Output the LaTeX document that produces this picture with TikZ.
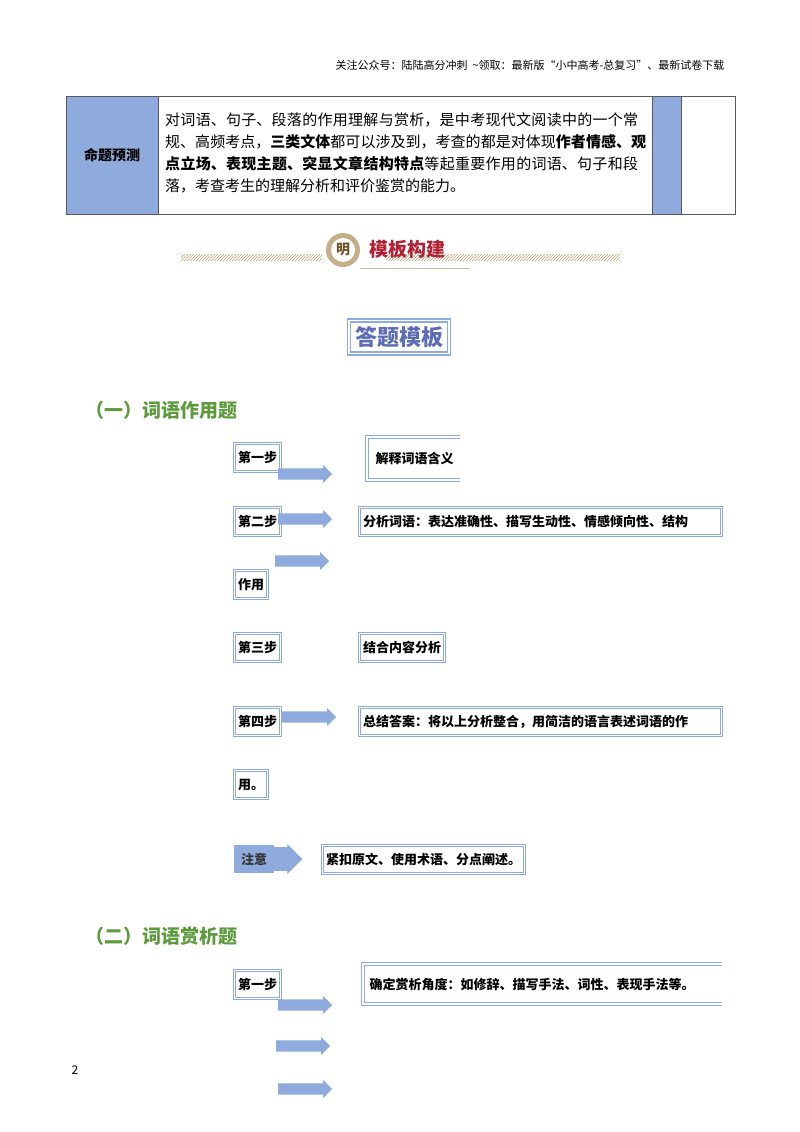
\documentclass[tikz,border=0pt]{standalone}
\usepackage{fontspec}
\setmainfont{Noto Sans CJK SC}
\XeTeXlinebreaklocale "zh"
\XeTeXlinebreakskip=0pt plus 1pt
\usetikzlibrary{shapes.arrows,patterns}
\definecolor{bl}{HTML}{8FAADC}
\definecolor{gr}{HTML}{5B9B3C}
\definecolor{rd}{HTML}{B22234}
\definecolor{br}{HTML}{9C7A3C}
\begin{document}
\begin{tikzpicture}[x=1pt,y=-1pt,
 dbox/.style={draw=bl,line width=1.2pt,double=white,double distance=1.3pt,inner sep=3.5pt,minimum height=28pt,anchor=north west,font=\fontsize{13}{15}\selectfont\bfseries,align=left},
 arr/.style={single arrow,fill=bl,draw=none,minimum height=54pt,minimum width=18pt,single arrow head extend=3pt,inner sep=5pt,anchor=west},
 hd/.style={font=\fontsize{19}{22}\selectfont\bfseries,text=gr,anchor=west}]
\useasboundingbox (0,0) rectangle (800,1132);
\node[anchor=east,font=\fontsize{11}{12}\selectfont] (hdr) at (728,65) {关注公众号：陆陆高分冲刺\ \ \textasciitilde 领取：最新版“小中高考-总复习”、最新试卷下载};
% table
\fill[bl] (66,96) rectangle (158,214);
\fill[bl] (652,96) rectangle (681,214);
\draw[gray!70!black,line width=0.8pt] (66,96) rectangle (735,214) (158,96)--(158,214) (652,96)--(652,214) (681,96)--(681,214);
\node[font=\fontsize{14}{16}\selectfont\bfseries] (mt) at (112,155) {命题预测};
\node[anchor=north west,text width=482pt,font=\fontsize{15}{22}\selectfont,inner sep=0pt] (tx) at (165,113) {对词语、句子、段落的作用理解与赏析，是中考现代文阅读中的一个常规、高频考点，\textbf{三类文体}都可以涉及到，考查的都是对体现\textbf{作者情感、观点立场、表现主题、突显文章结构特点}等起重要作用的词语、句子和段落，考查考生的理解分析和评价鉴赏的能力。};
% banner
\fill[pattern=north east lines,pattern color=br!70] (181,254) rectangle (322,260);
\fill[pattern=north east lines,pattern color=br!70] (386,254) rectangle (620,260);
\fill[br!60] (343,250) circle (17);
\fill[white] (343,250) circle (12);
\node[font=\fontsize{14}{14}\selectfont\bfseries,text=br!70!black] (ming) at (343,250) {明};
\node[font=\fontsize{19}{19}\selectfont\bfseries,text=rd,anchor=west] (mb) at (366,249) {模板构建};
\draw[br!50,line width=0.8pt] (360,268) -- (470,268);
% title
\node[draw=bl,line width=1.5pt,double=white,double distance=1.5pt,font=\fontsize{22}{24}\selectfont\bfseries,text=bl!80!blue!80!black,inner sep=6pt] (tt) at (399,337) {答题模板};
\node[hd] (h1) at (82,410) {（一）词语作用题};
% section 1
\node[dbox] (s1) at (234,443) {第一步};
\node[arr] (a1) at (278,474) {};
\draw[bl,line width=1.2pt,double=white,double distance=1.3pt] (460,437) -- (367,437) -- (367,480) -- (460,480);
\node[font=\fontsize{13}{15}\selectfont\bfseries,anchor=west] (b1) at (372,459) {解释词语含义};
\node[dbox] (s2) at (234,507) {第二步};
\node[arr] (a2) at (278,519) {};
\node[dbox,text width=355pt] (b2) at (359,507) {分析词语：表达准确性、描写生动性、情感倾向性、结构};
\node[arr] (a3) at (275,561) {};
\node[dbox] (s2b) at (234,570) {作用};
\node[dbox] (s3) at (234,633) {第三步};
\node[dbox] (b3) at (359,633) {结合内容分析};
\node[dbox] (s4) at (234,707) {第四步};
\node[arr] (a4) at (282,717) {};
\node[dbox,text width=355pt] (b4) at (359,707) {总结答案：将以上分析整合，用简洁的语言表述词语的作};
\node[dbox] (s4b) at (234,770) {用。};
\node[fill=bl,anchor=north west,minimum width=40pt,minimum height=28pt,inner sep=2pt,font=\fontsize{13}{15}\selectfont\bfseries,text=black!80] (zy) at (234,845) {注意};
\node[arr,minimum height=32pt,minimum width=30pt,single arrow head extend=3pt,inner sep=11pt] (az) at (268,859) {};
\node[dbox] (bz) at (322,845) {紧扣原文、使用术语、分点阐述。};
% section 2
\node[hd] (h2) at (82,936) {（二）词语赏析题};
\node[dbox] (t1) at (234,970) {第一步};
\draw[bl,line width=1.2pt,double=white,double distance=1.3pt] (722,964) -- (363,964) -- (363,1004) -- (722,1004);
\node[font=\fontsize{13}{15}\selectfont\bfseries,anchor=west] (c1) at (366,985) {确定赏析角度：如修辞、描写手法、词性、表现手法等。};
\node[arr] (d1) at (278,1005) {};
\node[arr] (d2) at (276,1046) {};
\node[arr] (d3) at (278,1089) {};
\node[font=\fontsize{12}{12}\selectfont] (pg) at (75,1070) {2};
\end{tikzpicture}
\end{document}
